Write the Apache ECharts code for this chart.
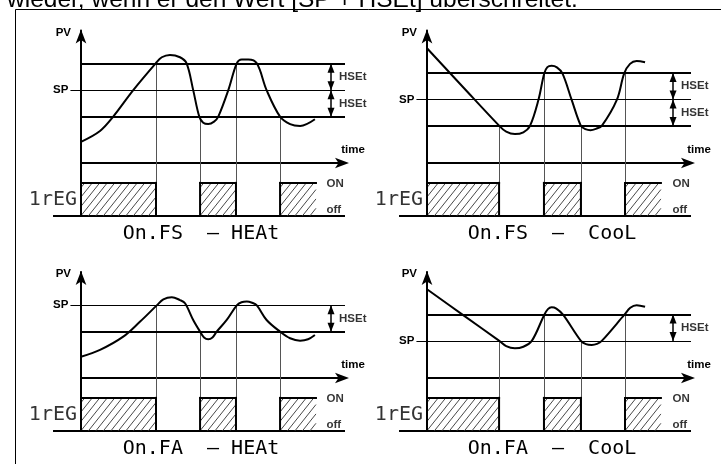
<!DOCTYPE html>
<html><head><meta charset="utf-8">
<script src="https://cdn.jsdelivr.net/npm/echarts@6/dist/echarts.min.js"></script>
<style>html,body{margin:0;padding:0;background:#fff;overflow:hidden}#c{width:721px;height:464px}</style>
</head><body><div id="c"></div>
<script>
// ================= DATA =================
const headerText = 'wieder, wenn er den Wert [SP + HSEt] überschreitet.';
const panelTitles = ['On.FS  — HEAt', 'On.FS  —  CooL', 'On.FA  — HEAt', 'On.FA  —  CooL'];
const outputName = '1rEG';
const pvName = 'PV', timeName = 'time', spName = 'SP', hsetName = 'HSEt', onName = 'ON', offName = 'off';

// PV units (time axis = 0), hysteresis HSEt = 10
const setPoints = [27.5, 24, 27.5, 14];
const hsetValue = 10;
// threshold lines per panel, as multiples of HSEt relative to SP
const thresholdSteps = [[1, 0, -1], [1, 0, -1], [0, -1], [1, 0]];

// process value curves  [time, PV]
const pvFSHeat = [[0,8],[7.2,12.1],[12.2,17.5],[19.8,27.5],[28.3,37.6],[30.6,39.9],[33.7,40.8],[37.5,39.9],[40,37.6],[42.5,27.5],[44.8,17.5],[46.3,15.2],[48.2,14.7],[50.4,15.6],[52,17.5],[55.8,27.5],[59,37.6],[60.9,39.1],[63.4,39.1],[66.6,37.6],[70.3,27.5],[75.4,17.5],[79.2,14.7],[83,14],[88.6,16.5]];
const pvFSCool = [[0,43.3],[13.7,28.6],[27.4,14],[30,11.8],[33.3,10.9],[36.5,11.6],[39,14],[42.2,23.8],[44.4,33.8],[45.6,36.2],[47.2,36.7],[49.2,36.1],[51.3,33.8],[54.8,23.8],[58.3,14],[60,12.8],[61.9,12.4],[64,12.9],[66.2,14],[71.9,23.8],[74.7,33.8],[76.9,37.4],[79.4,38.5],[82.6,38]];
const pvFAHeat = [[0,8],[7.2,10.6],[16,15.6],[22.3,21.2],[28.7,27.4],[31.2,29.7],[34.4,30.5],[37.5,29.4],[39.4,28.2],[42.5,21.9],[45.1,17.5],[46.6,15.3],[48.2,14.6],[49.8,15.3],[51.4,17.5],[55.2,21.9],[59,27.4],[60.8,28.6],[62.8,28.9],[64.8,28.4],[66.6,27.4],[70.3,21.9],[75.4,17.5],[79.2,15],[83,14.1],[86,14.6],[88.6,16.2]];
const pvFACool = [[0,33.5],[13.7,23.75],[27.4,14],[30,12],[33.3,11.2],[36.5,11.8],[39.7,14],[44.4,23.8],[45.8,26],[47.2,26.7],[49,26.2],[51.6,23.8],[58.3,14],[60.2,12.8],[62.4,12.5],[64.4,12.9],[66.2,14],[74.7,23.8],[77,26.5],[79.4,27.5],[82.6,26.9]];
const pvCurves = [pvFSHeat, pvFSCool, pvFAHeat, pvFACool];

// switching instants of output 1rEG and the threshold (HSEt steps from SP) crossed there
const switchTimes = [[28.4,45.1,58.7,75.4],[27.3,44.3,58.3,75],[28.4,45.1,58.7,75.4],[27.3,44.3,58.3,75]];
const switchSteps = [[1,-1,1,-1],[-1,1,-1,1],[0,-1,0,-1],[0,1,0,1]];
const outputEnd = [89, 88.6, 89, 88.6];
const hsetArrowTime = [94.7, 93.2, 94.7, 93.2];

// ================= LAYOUT =================
const panels = [
  {left:81,  pvTop:30.5, pvH:132.5, pvMax:50, outTop:163},
  {left:427, pvTop:30.5, pvH:132.5, pvMax:50, outTop:163},
  {left:81,  pvTop:272,  pvH:106,   pvMax:40, outTop:378},
  {left:427, pvTop:272,  pvH:106,   pvMax:40, outTop:378}
];
const titleShift = [24, 14, 24, 14];
const gridW = 264, outH = 53, outMax = 1.6;
const lineEnd = 100, spStart = -4, baseStart = -10.6;
const labelFont = 'Liberation Sans';
const smallLabel = {color:'#000', fontFamily:labelFont, fontWeight:'bold', fontSize:11.5};
const bigLabel = {color:'#000', fontFamily:'DejaVu Sans Mono', fontSize:20};

function hatchedBar(params, api) {
  const s = api.value(0), e = api.value(1), closed = api.value(2);
  const pb = api.coord([s, 0]), pt = api.coord([e, 1]);
  const x0 = pb[0], x1 = pt[0], yb = pb[1], yt = pt[1];
  const w = x1 - x0, h = yb - yt, k = 0.8, step = 7.5;
  const children = [];
  for (let c = -k * h + step / 2; c < w; c += step) {
    const tA = Math.max(0, -c / k), tB = Math.min(h, (w - c) / k);
    if (tB <= tA) continue;
    children.push({type:'line', shape:{x1:x0 + c + k * tA, y1:yb - tA, x2:x0 + c + k * tB, y2:yb - tB},
      style:{stroke:'#333', lineWidth:0.9}});
  }
  const edge = {stroke:'#000', lineWidth:2, lineCap:'square'};
  children.push({type:'line', shape:{x1:x0, y1:yt, x2:x1, y2:yt}, style:edge});
  children.push({type:'line', shape:{x1:x0, y1:yb, x2:x0, y2:yt}, style:edge});
  if (closed) children.push({type:'line', shape:{x1:x1, y1:yb, x2:x1, y2:yt}, style:edge});
  return {type:'group', children};
}

const grids = [], xAxes = [], yAxes = [], series = [];
const hiddenParts = {axisTick:{show:false}, axisLabel:{show:false}, splitLine:{show:false}};

panels.forEach((p, i) => {
  const gp = 2 * i, go = 2 * i + 1;
  const sp = setPoints[i];
  const levels = thresholdSteps[i].map(k => sp + k * hsetValue);
  grids.push({left:p.left, top:p.pvTop, width:gridW, height:p.pvH, outerBoundsMode:'none'});
  grids.push({left:p.left, top:p.outTop, width:gridW, height:outH, outerBoundsMode:'none'});

  xAxes.push(Object.assign({gridIndex:gp, type:'value', min:0, max:lineEnd,
    axisLine:{show:true, onZero:false, lineStyle:{color:'#000', width:2}, symbol:['none','arrow'], symbolSize:[8,14], symbolOffset:[0,4]},
    name:timeName, nameLocation:'end', nameGap:8, nameMoveOverlap:false,
    nameTextStyle:Object.assign({}, smallLabel, {align:'center', verticalAlign:'bottom', padding:[0,0,7,0]})
  }, hiddenParts));
  xAxes.push(Object.assign({gridIndex:go, type:'value', min:0, max:lineEnd,
    axisLine:{show:false},
    name:panelTitles[i], nameLocation:'middle', nameGap:8, nameMoveOverlap:false,
    nameTextStyle:Object.assign({}, bigLabel, {padding:[0, titleShift[i], 0, 0]})
  }, hiddenParts));
  yAxes.push(Object.assign({gridIndex:gp, type:'value', min:0, max:p.pvMax,
    axisLine:{show:true, onZero:false, lineStyle:{color:'#000', width:2}, symbol:['none','arrow'], symbolSize:[8,14], symbolOffset:[0,1]},
    name:pvName, nameLocation:'end', nameGap:-2, nameMoveOverlap:false,
    nameTextStyle:Object.assign({}, smallLabel, {align:'right', verticalAlign:'middle', padding:[0,10,0,0]})
  }, hiddenParts));
  yAxes.push(Object.assign({gridIndex:go, type:'value', min:0, max:outMax,
    axisLine:{show:true, onZero:false, lineStyle:{color:'#000', width:2}}
  }, hiddenParts));

  // threshold lines (SP thin with label)
  series.push({type:'lines', coordinateSystem:'cartesian2d', xAxisIndex:gp, yAxisIndex:gp, clip:false, silent:true,
    lineStyle:{color:'#000', width:2, opacity:1},
    data: levels.map(v => v === sp
      ? {coords:[[spStart, v],[lineEnd, v]], lineStyle:{width:1.2},
         label:Object.assign({show:true, position:'start', distance:2, formatter:spName}, smallLabel)}
      : {coords:[[0, v],[lineEnd, v]]}),
    z:3});
  // switching verticals
  series.push({type:'lines', coordinateSystem:'cartesian2d', xAxisIndex:gp, yAxisIndex:gp, silent:true,
    lineStyle:{color:'#555', width:1, opacity:1},
    data: switchTimes[i].map((t, j) => ({coords:[[t, sp + switchSteps[i][j] * hsetValue],[t, 0]]})), z:2});
  series.push({type:'lines', coordinateSystem:'cartesian2d', xAxisIndex:go, yAxisIndex:go, silent:true,
    lineStyle:{color:'#555', width:1, opacity:1},
    data: switchTimes[i].map(t => ({coords:[[t, outMax],[t, 0]]})), z:2});
  // PV curve
  series.push({type:'line', xAxisIndex:gp, yAxisIndex:gp, data:pvCurves[i], smooth:0.35, symbol:'none',
    lineStyle:{color:'#000', width:2}, z:5, silent:true});
  // HSEt dimension arrows + labels
  const ta = hsetArrowTime[i];
  const mids = [], pairs = [];
  for (let j = 0; j + 1 < levels.length; j++) {
    mids.push({name:hsetName, value:[ta, (levels[j] + levels[j + 1]) / 2]});
    pairs.push([{coord:[ta, levels[j]]}, {coord:[ta, levels[j + 1]]}]);
  }
  series.push({type:'scatter', xAxisIndex:gp, yAxisIndex:gp, symbolSize:0, silent:true, data:mids,
    label:Object.assign({show:true, position:'right', distance:8, formatter:'{b}'}, smallLabel),
    markLine:{silent:true, symbol:['triangle','triangle'], symbolSize:[7,9], symbolOffset:[[0,4.5],[0,4.5]],
      lineStyle:{color:'#000', width:1.5, type:'solid'}, label:{show:false}, data:pairs}});
  // output bars
  const st = switchTimes[i];
  const bars = [[0, st[0], 1], [st[1], st[2], 1], [st[3], outputEnd[i], 0]];
  series.push({type:'custom', xAxisIndex:go, yAxisIndex:go, data:bars, renderItem:hatchedBar, silent:true, z:4});
  // base line
  series.push({type:'lines', coordinateSystem:'cartesian2d', xAxisIndex:go, yAxisIndex:go, clip:false, silent:true,
    lineStyle:{color:'#000', width:2, opacity:1}, data:[{coords:[[baseStart, 0],[lineEnd, 0]]}], z:3});
  // ON / off labels and output name
  series.push({type:'scatter', xAxisIndex:go, yAxisIndex:go, symbolSize:0, silent:true,
    data:[{name:onName, value:[93, 0.97]}, {name:offName, value:[93, 0.18]}],
    label:Object.assign({show:true, position:'right', distance:0, formatter:'{b}'}, smallLabel)});
  series.push({type:'scatter', xAxisIndex:go, yAxisIndex:go, symbolSize:0, silent:true,
    data:[{name:outputName, value:[0, 0.48]}],
    label:Object.assign({show:true, position:'left', distance:4, formatter:'{b}'}, bigLabel)});
});

const chart = echarts.init(document.getElementById('c'), null, {renderer:'canvas'});
chart.setOption({
  animation:false,
  backgroundColor:'#fff',
  title:{text:headerText, left:7, top:-12, padding:0,
    textStyle:{fontFamily:labelFont, fontSize:24.5, fontWeight:'normal', color:'#000'}},
  graphic:[{type:'rect', silent:true, shape:{x:15.5, y:9.5, width:720, height:470},
    style:{fill:'none', stroke:'#000', lineWidth:1}}],
  grid:grids, xAxis:xAxes, yAxis:yAxes, series:series
});
</script></body></html>
